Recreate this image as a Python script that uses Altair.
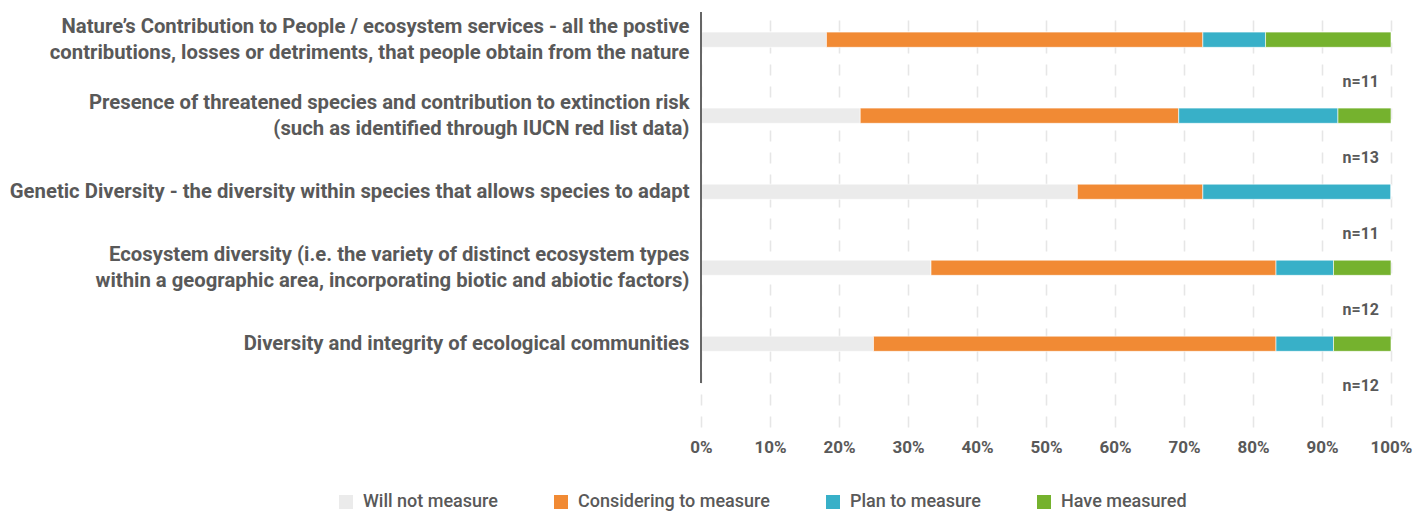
import altair as alt
import pandas as pd

# Indicator categories, top to bottom ("\n" splits a label over two lines)
indicators = [
    "Nature’s Contribution to People / ecosystem services - all the postive\ncontributions, losses or detriments, that people obtain from the nature",
    "Presence of threatened species and contribution to extinction risk\n(such as identified through IUCN red list data)",
    "Genetic Diversity - the diversity within species that allows species to adapt",
    "Ecosystem diversity (i.e. the variety of distinct ecosystem types\nwithin a geographic area, incorporating biotic and abiotic factors)",
    "Diversity and integrity of ecological communities\u00a0",
]

statuses = ["Will not measure", "Considering to measure", "Plan to measure", "Have measured"]
status_colors = ["#ebebeb", "#f18a34", "#38b0c8", "#75b22e"]

# Number of respondents per status, one entry per indicator
will_not_measure = [2, 3, 6, 4, 3]
considering_to_measure = [6, 6, 2, 6, 7]
plan_to_measure = [1, 3, 3, 1, 1]
have_measured = [2, 1, 0, 1, 1]

tick_values = [0, 0.1, 0.2, 0.3, 0.4, 0.5, 0.6, 0.7, 0.8, 0.9, 1.0]

FONT = "Roboto"
TEXT_COLOR = "#595959"

series = [will_not_measure, considering_to_measure, plan_to_measure, have_measured]
rows = []
for i, ind in enumerate(indicators):
    for j, status in enumerate(statuses):
        rows.append({"indicator": ind, "status": status, "rank": j, "count": series[j][i]})
df = pd.DataFrame(rows)

totals = df.groupby("indicator", sort=False)["count"].sum().reset_index()
totals["label"] = "n=" + totals["count"].astype(str)

y_scale = alt.Scale(domain=indicators, paddingInner=0.8, paddingOuter=0.63, align=0.21)

# two-line labels hang around the bar centre instead of starting on it
two_line = "indexof(datum.value, '\\n') >= 0"

bars = alt.Chart(df).mark_bar(stroke="white", strokeWidth=0.6).encode(
    y=alt.Y(
        "indicator:N",
        sort=indicators,
        scale=y_scale,
        axis=alt.Axis(
            title=None,
            domain=False,
            ticks=False,
            labelExpr="split(datum.label, '\\n')",
            labelAlign="right",
            labelBaseline=alt.ConditionalAxisLabelBaseline(
                condition={"test": two_line, "value": "line-bottom"},
                value="middle",
            ),
            labelPadding=12,
            labelFont=FONT,
            labelFontSize=20.3,
            labelFontWeight="bold",
            labelColor=TEXT_COLOR,
            labelLineHeight=26,
            labelLimit=0,
        ),
    ),
    x=alt.X(
        "count:Q",
        stack="normalize",
        scale=alt.Scale(domain=[0, 1]),
        axis=alt.Axis(
            title=None,
            format=".0%",
            values=tick_values,
            domain=False,
            ticks=False,
            grid=True,
            gridDash=[11, 11],
            gridColor="#e6e6e6",
            gridWidth=1.6,
            labelPadding=12,
            labelFlush=False,
            labelOverlap=False,
            labelFont=FONT,
            labelFontSize=17,
            labelFontWeight="bold",
            labelColor=TEXT_COLOR,
        ),
    ),
    color=alt.Color(
        "status:N",
        scale=alt.Scale(domain=statuses, range=status_colors),
        legend=alt.Legend(
            title=None,
            orient="none",
            legendX=-364,
            legendY=481,
            direction="horizontal",
            symbolType="square",
            symbolSize=196,
            symbolStrokeWidth=0,
            labelFont=FONT,
            labelFontSize=18,
            labelFontWeight=500,
            labelColor=TEXT_COLOR,
            labelLimit=0,
            labelOffset=8,
            columnPadding=54,
            padding=0,
        ),
    ),
    order=alt.Order("rank:Q"),
)

n_labels = alt.Chart(totals).mark_text(
    align="right", baseline="middle", dx=-12, dy=42,
    font=FONT, fontSize=16, fontWeight="bold", color=TEXT_COLOR,
).encode(
    y=alt.Y("indicator:N", sort=indicators, scale=y_scale),
    x=alt.datum(1, type="quantitative"),
    text="label:N",
)

axis_line = alt.Chart(pd.DataFrame({"edge": [0]})).mark_rule(
    color="#666666", strokeWidth=2
).encode(x=alt.value(0), y=alt.value(0), y2=alt.value(371))

chart = alt.layer(bars, n_labels, axis_line).properties(
    width=690,
    height=415,
    padding={"left": 701, "top": 12, "right": 27, "bottom": 84},
    autosize=alt.AutoSizeParams(type="none"),
).configure_view(stroke=None)

chart.save("out.html", embed_options={"renderer": "svg", "actions": False})
